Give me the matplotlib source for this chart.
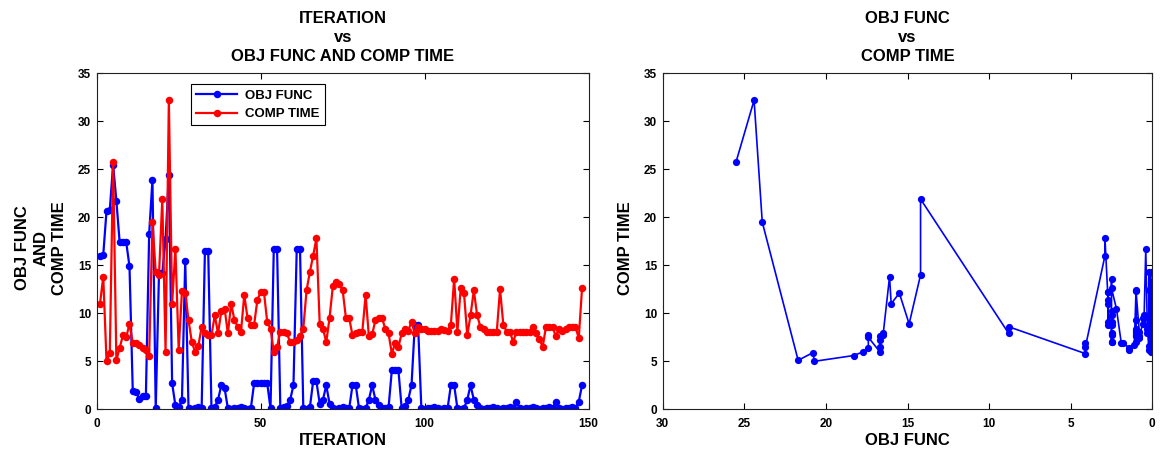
import numpy as np
import matplotlib
matplotlib.use("Agg")
import matplotlib.pyplot as plt

# ---- data -------------------------------------------------------------
iteration = np.arange(1, 149)

obj_func = [
    16.0, 16.1, 20.7, 20.8, 25.5, 21.7, 17.4, 17.4, 17.4, 14.9,
    1.9, 1.8, 1.1, 1.4, 1.4, 18.3, 23.9, 0.1, 14.2, 14.2,
    17.7, 24.4, 2.7, 0.4, 0.2, 1.0, 15.5, 0.1, 0.05, 0.1,
    0.2, 0.1, 16.5, 16.5, 0.1, 0.2, 1.0, 2.5, 2.2, 0.1,
    0.05, 0.1, 0.1, 0.2, 0.1, 0.05, 0.1, 2.7, 2.7, 2.7,
    2.7, 2.7, 0.1, 16.7, 16.7, 0.1, 0.2, 0.3, 1.0, 2.5,
    16.7, 16.7, 0.1, 0.05, 0.2, 2.9, 2.9, 0.6, 1.0, 2.5,
    0.6, 0.1, 0.05, 0.1, 0.2, 0.1, 0.1, 2.5, 2.5, 0.1,
    0.05, 0.1, 1.0, 2.5, 1.0, 0.5, 0.1, 0.1, 0.2, 4.1,
    4.1, 4.1, 0.1, 0.3, 1.0, 2.5, 8.8, 8.8, 0.1, 0.05,
    0.1, 0.1, 0.2, 0.1, 0.05, 0.1, 0.1, 2.5, 2.5, 0.1,
    0.05, 0.1, 1.0, 2.5, 1.0, 0.5, 0.1, 0.05, 0.1, 0.1,
    0.2, 0.1, 0.05, 0.1, 0.1, 0.2, 0.1, 0.8, 0.1, 0.05,
    0.1, 0.1, 0.2, 0.1, 0.05, 0.1, 0.1, 0.2, 0.1, 0.8,
    0.1, 0.05, 0.1, 0.1, 0.2, 0.1, 0.8, 2.5,
]

comp_time = [
    11.0, 13.8, 5.0, 5.9, 25.8, 5.1, 6.4, 7.7, 7.5, 8.9,
    6.9, 6.9, 6.7, 6.4, 6.2, 5.6, 19.5, 14.3, 14.0, 21.9,
    6.0, 32.2, 11.0, 16.7, 6.2, 12.3, 12.1, 9.3, 7.0, 6.0,
    6.6, 8.6, 7.9, 7.7, 7.7, 9.8, 7.9, 10.2, 10.5, 7.9,
    11.0, 9.3, 8.6, 8.1, 11.9, 9.5, 8.8, 8.8, 11.4, 12.2,
    12.2, 9.1, 8.4, 6.0, 6.5, 8.1, 8.1, 7.9, 7.0, 7.0,
    7.2, 7.6, 8.4, 12.4, 14.3, 16.0, 17.8, 8.9, 8.4, 7.0,
    9.5, 12.8, 13.3, 13.1, 12.4, 9.5, 9.5, 7.7, 7.9, 8.1,
    8.1, 11.9, 7.6, 7.8, 9.3, 9.5, 9.5, 8.4, 7.9, 5.8,
    6.9, 6.5, 7.9, 8.4, 8.2, 9.1, 7.9, 8.6, 8.4, 8.4,
    8.2, 8.2, 8.2, 8.2, 8.4, 8.3, 8.2, 8.8, 13.6, 8.1,
    12.6, 12.1, 7.7, 9.8, 12.4, 9.8, 8.6, 8.4, 8.1, 8.1,
    8.1, 8.1, 12.5, 8.8, 8.1, 8.1, 7.0, 8.1, 8.1, 8.1,
    8.1, 8.1, 8.6, 7.9, 7.3, 6.5, 8.6, 8.6, 8.6, 7.6,
    8.4, 8.2, 8.4, 8.6, 8.6, 8.6, 7.4, 12.6,
]

series_labels = ["OBJ FUNC", "COMP TIME"]
iter_ticks = [0, 50, 100, 150]
obj_ticks = [0, 5, 10, 15, 20, 25, 30]
time_ticks = [0, 5, 10, 15, 20, 25, 30, 35]

# ---- style ------------------------------------------------------------
plt.rcParams["font.family"] = ["Liberation Sans", "DejaVu Sans"]
plt.rcParams["font.weight"] = "bold"

W, H = 1161, 454
fig = plt.figure(figsize=(W / 100, H / 100), dpi=100)
bottom = (H - 409.3) / H
height = 336.0 / H
ax1 = fig.add_axes([96.7 / W, bottom, 491.9 / W, height])
ax2 = fig.add_axes([662.7 / W, bottom, 489.6 / W, height])

blue = "#0000ff"
red = "#ff0000"


def style_axes(ax):
    ax.tick_params(direction="in", top=True, right=True, length=4,
                   width=0.8, labelsize=8.5, pad=4)
    ax.tick_params(axis="x", pad=6)
    for s in ax.spines.values():
        s.set_linewidth(0.8)
        s.set_color("#222222")
    for lab in ax.get_xticklabels() + ax.get_yticklabels():
        lab.set_fontweight("bold")


# ---- left: iteration vs objective and time ----------------------------
ax1.plot(iteration, obj_func, "-o", color=blue, lw=1.6, ms=5.4, mew=0,
         label=series_labels[0])
ax1.plot(iteration, comp_time, "-o", color=red, lw=1.6, ms=5.4, mew=0,
         label=series_labels[1])
ax1.set_xlim(0, 150)
ax1.set_ylim(0, 35)
ax1.set_xticks(iter_ticks)
ax1.set_yticks(time_ticks)
style_axes(ax1)
ax1.set_title("ITERATION\nvs\nOBJ FUNC AND COMP TIME", fontsize=12,
              fontweight="bold", pad=8.5, linespacing=1.34)
ax1.set_xlabel("ITERATION", fontsize=12, fontweight="bold")
ax1.set_ylabel("OBJ FUNC\nAND\nCOMP TIME", fontsize=12, fontweight="bold",
               linespacing=1.3)
ax1.xaxis.set_label_coords(0.5, -0.07)
ax1.yaxis.set_label_coords(-0.06, 0.48)
leg = ax1.legend(loc="upper left", bbox_to_anchor=(0.192, 0.968),
                 borderaxespad=0, fontsize=9.5, numpoints=1,
                 handlelength=3.1, handletextpad=0.6, borderpad=0.4,
                 labelspacing=0.48, fancybox=False, framealpha=1,
                 edgecolor="black")
leg.get_frame().set_linewidth(0.8)
for t in leg.get_texts():
    t.set_fontweight("bold")

# ---- right: objective vs time, ordered by objective --------------------
obj_arr = np.asarray(obj_func)
time_arr = np.asarray(comp_time)
order = np.argsort(-obj_arr, kind="stable")
ax2.plot(obj_arr[order], time_arr[order], "-o", color=blue, lw=1.2,
         ms=5.2, mew=0)
ax2.set_xlim(30, 0)
ax2.set_ylim(0, 35)
ax2.set_xticks(obj_ticks)
ax2.set_yticks(time_ticks)
style_axes(ax2)
ax2.set_title("OBJ FUNC\nvs\nCOMP TIME", fontsize=12, fontweight="bold",
              pad=8.5, linespacing=1.34)
ax2.set_xlabel("OBJ FUNC", fontsize=12, fontweight="bold")
ax2.set_ylabel("COMP TIME", fontsize=12, fontweight="bold")
ax2.xaxis.set_label_coords(0.5, -0.07)
ax2.yaxis.set_label_coords(-0.061, 0.48)

fig.savefig("out.png", dpi=100)
